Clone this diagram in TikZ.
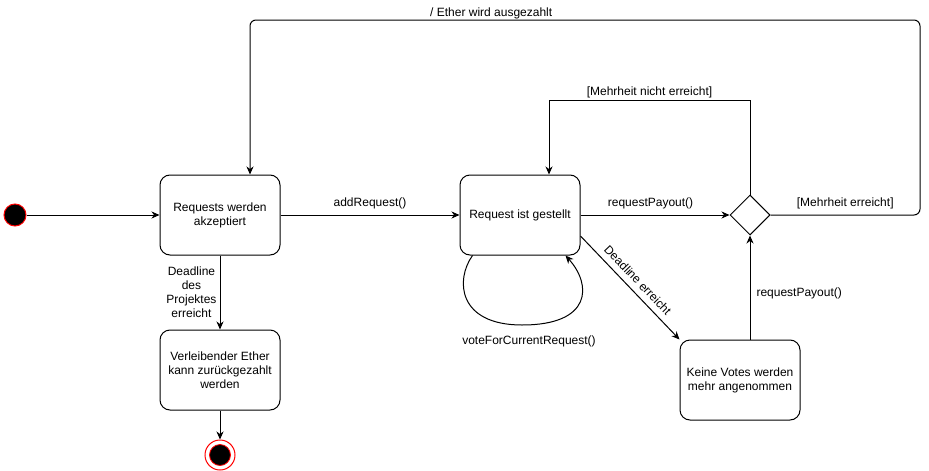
\documentclass[tikz,border=0pt]{standalone}
\usepackage{fontspec}
\setmainfont{Liberation Sans}
\usetikzlibrary{arrows.meta,shapes.geometric}
\begin{document}
\begin{tikzpicture}[x=1pt,y=-1pt,
  font=\fontsize{12}{14}\selectfont,
  stbox/.style={draw, line width=1pt, rounded corners=10pt, minimum width=120pt, minimum height=80pt, align=center, inner sep=2pt},
  arr/.style={line width=1pt, -{Stealth[length=8pt,width=7pt,inset=2.5pt]}},
  lbl/.style={inner sep=2pt}]
\useasboundingbox (0,0) rectangle (929,471);
% states
\node[circle, draw=red, fill=black, line width=1pt, minimum size=22pt, inner sep=0pt] (init) at (15,215) {};
\node[stbox] (b1) at (220,215) {Requests werden\\akzeptiert};
\node[stbox] (b2) at (520,215) {Request ist gestellt};
\node[diamond, draw, line width=1pt, minimum width=40pt, minimum height=40pt, inner sep=0pt] (d) at (750,215) {};
\node[stbox] (b3) at (740,380) {Keine Votes werden\\mehr angenommen};
\node[stbox] (b4) at (220,370) {Verleibender Ether\\kann zurückgezahlt\\werden};
\node[circle, draw=red, fill=white, line width=1pt, minimum size=30pt, inner sep=0pt] (fin) at (220,455) {};
\node[circle, draw=red, fill=black, line width=0.8pt, minimum size=21pt, inner sep=0pt] (finin) at (fin) {};
% helper coordinates
\coordinate (n1) at (750,100);
\coordinate (n2) at (549,100);
\coordinate (m1) at (920,215);
\coordinate (m2) at (920,20);
\coordinate (m3) at (250,20);
\coordinate (lb) at (522,325);
% connectors
\draw[arr] (init) -- (b1);
\draw[arr] (b1) -- node[lbl, above=4pt]{addRequest()} (b2);
\draw[arr] (b2) -- node[lbl, above=4pt, pos=0.47]{requestPayout()} (d);
\draw[arr] (d.north) -- (n1) -- node[lbl, above]{[Mehrheit nicht erreicht]} (n2) -- (n2 |- b2.north);
\draw[arr, rounded corners=6pt] (d.east) -- node[lbl, above=4pt]{[Mehrheit erreicht]} (m1) -- (m2) -- node[lbl, above, pos=0.64, inner sep=1pt]{/ Ether wird ausgezahlt} (m3) -- (m3 |- b1.north);
\draw[arr] ([yshift=-21pt]b2.east) -- node[lbl, sloped, above=4pt]{Deadline erreicht} (b3.north west);
\draw[arr] ([xshift=13pt]b2.south west) .. controls (455,280) and (458,325) .. (lb) .. controls (592,325) and (592,285) .. ([xshift=-15pt]b2.south east);
\node[lbl] (vote) at (529,341) {voteForCurrentRequest()};
\draw[arr] (b3.north -| d.south) -- node[lbl, right=4pt, pos=0.44]{requestPayout()} (d.south);
\draw[arr] (b1) -- node[lbl, left=1pt, align=center]{Deadline\\des\\Projektes\\erreicht} (b4);
\draw[arr] (b4) -- (fin);
\end{tikzpicture}
\end{document}
